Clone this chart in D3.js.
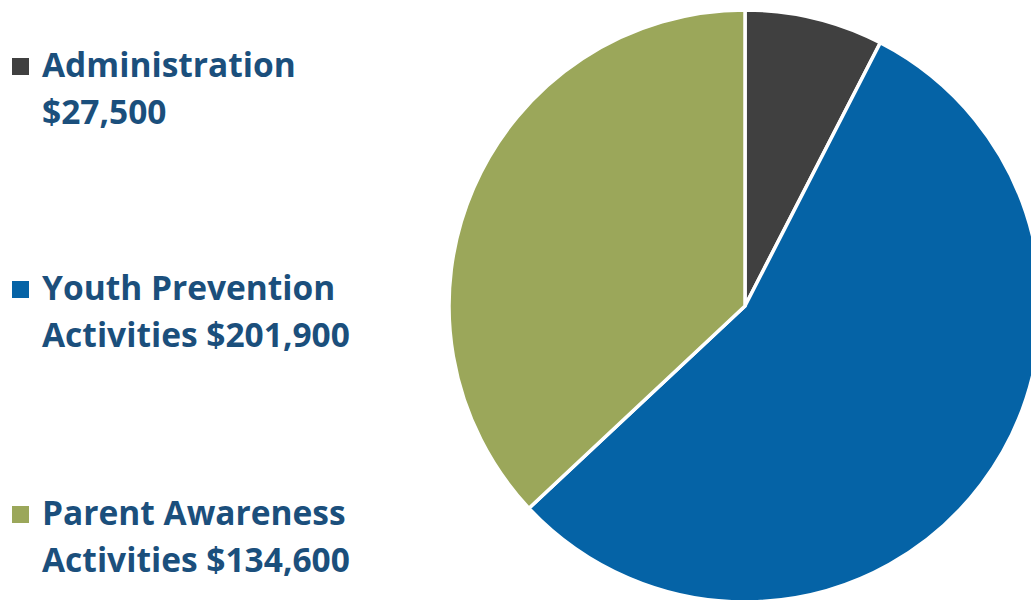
<!DOCTYPE html>
<html>
<head>
<meta charset="utf-8">
<script src="https://d3js.org/d3.v7.min.js"></script>
<style>
html, body { margin: 0; padding: 0; background: #fff; overflow: hidden; }
svg { display: block; }
</style>
</head>
<body>
<svg id="chart" width="1031" height="600"></svg>
<script>
const categories = ["Administration", "Youth Prevention Activities", "Parent Awareness Activities"];
const values = [27500, 201900, 134600];
const legendLine1 = ["Administration", "Youth Prevention", "Parent Awareness"];
const legendLine2 = ["$27,500", "Activities $201,900", "Activities $134,600"];
const colors = ["#404040", "#0563A6", "#9BA75A"];

const svg = d3.select("#chart");
const cx = 745, cy = 306, r = 296;

const data = categories.map((c, i) => ({ name: c, value: values[i], color: colors[i] }));
const pie = d3.pie().value(d => d.value).sort(null);
const arc = d3.arc().innerRadius(0).outerRadius(r);

svg.append("g")
  .attr("transform", `translate(${cx},${cy})`)
  .selectAll("path")
  .data(pie(data))
  .join("path")
  .attr("d", arc)
  .attr("fill", d => d.data.color)
  .attr("stroke", "#fff")
  .attr("stroke-width", 3.5)
  .attr("stroke-linejoin", "round");

const legendY = [77, 300, 525];
const lineGap = 47;
const lg = svg.append("g");
data.forEach((d, i) => {
  const g = lg.append("g").attr("transform", `translate(0,${legendY[i]})`);
  g.append("rect").attr("x", 12).attr("y", -19).attr("width", 17).attr("height", 17).attr("fill", d.color);
  const t = g.append("text")
    .attr("font-family", "'Open Sans', sans-serif")
    .attr("font-weight", 700)
    .attr("font-size", 33.5)
    .attr("fill", "#1B4F7C");
  t.append("tspan").attr("x", 42).attr("y", 0).text(legendLine1[i]);
  t.append("tspan").attr("x", 42).attr("y", lineGap).text(legendLine2[i]);
});
</script>
</body>
</html>
